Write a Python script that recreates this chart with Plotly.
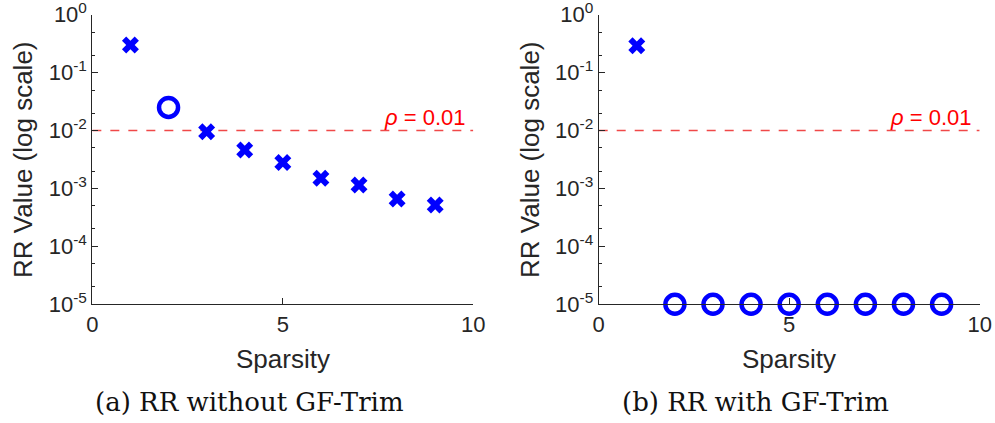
import plotly.graph_objects as go

# Data
sparsity = [1, 2, 3, 4, 5, 6, 7, 8, 9]
rr_without = [0.30, 0.025, 0.0095, 0.0046, 0.0028, 0.0015, 0.00115, 0.00066, 0.00052]
status_without = ["x", "o", "x", "x", "x", "x", "x", "x", "x"]
rr_with = [0.29, 1e-5, 1e-5, 1e-5, 1e-5, 1e-5, 1e-5, 1e-5, 1e-5]
status_with = ["x", "o", "o", "o", "o", "o", "o", "o", "o"]
rho = 0.01
ytick_vals = [1e0, 1e-1, 1e-2, 1e-3, 1e-4, 1e-5]
ytick_text = ["10<sup>0</sup>", "10<sup>-1</sup>", "10<sup>-2</sup>", "10<sup>-3</sup>", "10<sup>-4</sup>", "10<sup>-5</sup>"]
xtick_vals = [0, 5, 10]
captions = ["(a) RR without GF-Trim", "(b) RR with GF-Trim"]

BLUE = "#0000FF"
AX = "#262626"
SANS = "Liberation Sans, Arial, sans-serif"

fig = go.Figure()

panels = [
    (rr_without, status_without, "x", "y", [0.0928, 0.4757]),
    (rr_with, status_with, "x2", "y2", [0.6017, 0.9846]),
]
ydom = [1 - 304.3 / 423, 1 - 14.7 / 423]

for i, (vals, status, xa, ya, xdom) in enumerate(panels):
    xs_x = [s for s, st in zip(sparsity, status) if st == "x"]
    ys_x = [v for v, st in zip(vals, status) if st == "x"]
    xs_o = [s for s, st in zip(sparsity, status) if st == "o"]
    ys_o = [v for v, st in zip(vals, status) if st == "o"]
    # threshold line
    fig.add_trace(go.Scatter(x=[0, 10], y=[rho, rho], mode="lines",
                             line=dict(color="#F04848", width=1.5, dash="dash"),
                             xaxis=xa, yaxis=ya, showlegend=False, hoverinfo="skip"))
    fig.add_trace(go.Scatter(x=xs_x, y=ys_x, mode="markers",
                             marker=dict(symbol="x", size=15, color=BLUE, line=dict(width=0)),
                             xaxis=xa, yaxis=ya, showlegend=False, cliponaxis=False))
    fig.add_trace(go.Scatter(x=xs_o, y=ys_o, mode="markers",
                             marker=dict(symbol="circle-open", size=19, color=BLUE,
                                         line=dict(width=4.5, color=BLUE)),
                             xaxis=xa, yaxis=ya, showlegend=False, cliponaxis=False))
    sfx = "" if i == 0 else "2"
    fig.update_layout(**{
        "xaxis" + sfx: dict(domain=xdom, range=[0, 10], tickvals=xtick_vals,
                            ticks="inside", ticklen=6, tickcolor=AX, showline=True,
                            linecolor=AX, linewidth=1, showgrid=False, zeroline=False,
                            anchor="y" + sfx, tickfont=dict(family=SANS, size=22, color=AX),
                            mirror=False, automargin=False, ticklabeloverflow="allow"),
        "yaxis" + sfx: dict(domain=ydom, type="log", range=[-5, 0], tickvals=ytick_vals,
                            ticktext=ytick_text, ticks="inside", ticklen=6, tickcolor=AX,
                            showline=True, linecolor=AX, linewidth=1, showgrid=False,
                            zeroline=False, anchor="x" + sfx, automargin=False,
                            ticklabeloverflow="allow",
                            tickfont=dict(family=SANS, size=22, color=AX),
                            minor=dict(ticks="inside", ticklen=3, tickcolor=AX, showgrid=False)),
    })
    # rho annotation
    fig.add_annotation(x=9.85, y=-2, xref=xa, yref=ya, text="<i>ρ</i> = 0.01",
                       showarrow=False, xanchor="right", yanchor="bottom",
                       font=dict(family=SANS, size=22, color="#FF0000"), yshift=-1)

# axis titles and captions as annotations
y_title_x = [23 / 995, 530 / 995]
x_title_x = [283 / 995, 789 / 995]
cap_x = [250 / 995, 755 / 995]
for i in range(2):
    fig.add_annotation(x=y_title_x[i], y=1 - 160 / 423, xref="paper", yref="paper",
                       text="RR Value (log scale)", textangle=-90, showarrow=False,
                       xanchor="center", yanchor="middle",
                       font=dict(family=SANS, size=26, color=AX))
    fig.add_annotation(x=x_title_x[i], y=1 - 359 / 423, xref="paper", yref="paper",
                       text="Sparsity", showarrow=False,
                       xanchor="center", yanchor="middle",
                       font=dict(family=SANS, size=26, color=AX))
    fig.add_annotation(x=cap_x[i], y=1 - 402 / 423, xref="paper", yref="paper",
                       text=captions[i], showarrow=False,
                       xanchor="center", yanchor="middle",
                       font=dict(family="DejaVu Serif, Liberation Serif, serif", size=26, color="#111111"))

fig.update_layout(width=995, height=423, margin=dict(l=0, r=0, t=0, b=0),
                  plot_bgcolor="white", paper_bgcolor="white", showlegend=False)

fig.write_html("out.html")
